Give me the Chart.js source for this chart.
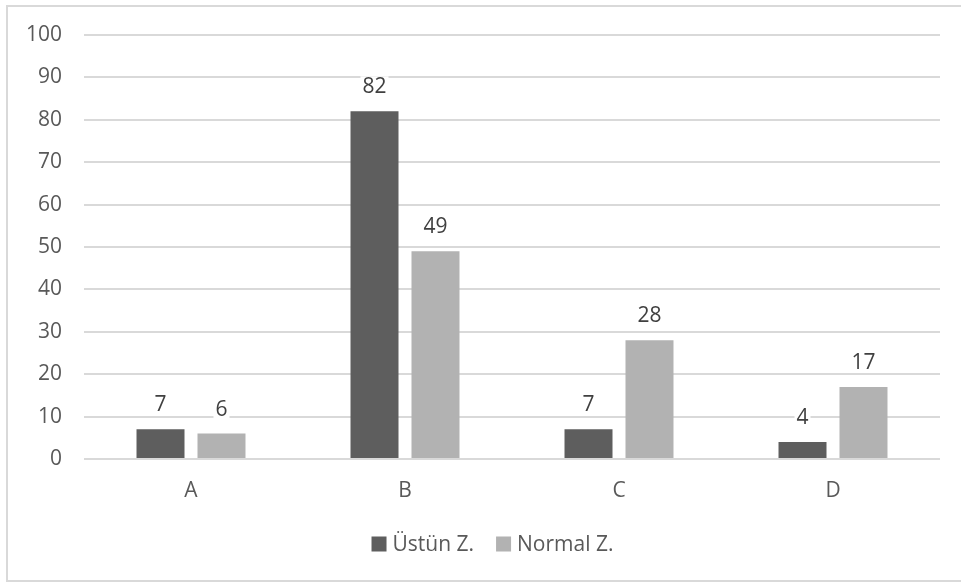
<!DOCTYPE html>
<html>
<head>
<meta charset="utf-8">
<script src="https://cdn.jsdelivr.net/npm/chart.js@4"></script>
<style>
  html, body { margin: 0; padding: 0; background: #ffffff; }
  #wrap { width: 961px; height: 584px; position: relative; }
</style>
</head>
<body>
<div id="wrap"><canvas id="chart" width="961" height="584"></canvas></div>
<script>
// Categories and series
const categories = ['A', 'B', 'C', 'D'];
const ustunValues = [7, 82, 7, 4];
const normalValues = [6, 49, 28, 17];
const seriesNames = ['Üstün Z.', 'Normal Z.'];
const yTicks = [0, 10, 20, 30, 40, 50, 60, 70, 80, 90, 100];

const FONT = "'Open Sans', sans-serif";
const FONT_SIZE = 21;

// Light frame around the whole chart
const framePlugin = {
  id: 'frame',
  beforeDraw(chart) {
    const ctx = chart.ctx;
    ctx.save();
    ctx.fillStyle = '#ffffff';
    ctx.fillRect(0, 0, chart.width, chart.height);
    ctx.strokeStyle = '#d9d9d9';
    ctx.lineWidth = 2;
    ctx.strokeRect(7, 6, chart.width + 20, 575);
    ctx.restore();
  }
};

// Value labels above each bar, on a white backing
const valueLabels = {
  id: 'valueLabels',
  afterDatasetsDraw(chart) {
    const ctx = chart.ctx;
    ctx.save();
    ctx.font = FONT_SIZE + 'px ' + FONT;
    ctx.textAlign = 'center';
    ctx.textBaseline = 'middle';
    chart.data.datasets.forEach((ds, di) => {
      const meta = chart.getDatasetMeta(di);
      meta.data.forEach((bar, i) => {
        const txt = String(ds.data[i]);
        const w = ctx.measureText(txt).width;
        const cy = bar.y - 25;
        ctx.fillStyle = '#ffffff';
        ctx.fillRect(bar.x - w / 2 - 2, cy - 10, w + 4, 20);
        ctx.fillStyle = '#404040';
        ctx.fillText(txt, bar.x, cy + 1);
      });
    });
    ctx.restore();
  }
};

// Compact legend row under the category axis
const bottomLegend = {
  id: 'bottomLegend',
  afterDraw(chart) {
    const ctx = chart.ctx;
    ctx.save();
    ctx.font = FONT_SIZE + 'px ' + FONT;
    ctx.textBaseline = 'middle';
    ctx.textAlign = 'left';
    const box = 15, gapText = 6, gapItem = 22;
    const items = chart.data.datasets.map(ds => ({
      label: ds.label, color: ds.backgroundColor, w: ctx.measureText(ds.label).width
    }));
    const total = items.reduce((s, it) => s + box + gapText + it.w, 0) + gapItem * (items.length - 1);
    let x = chart.width / 2 + 12 - total / 2;
    const cy = 544;
    items.forEach(it => {
      ctx.fillStyle = it.color;
      ctx.fillRect(x, cy - box / 2, box, box);
      x += box + gapText;
      ctx.fillStyle = '#595959';
      ctx.fillText(it.label, x, cy + 1);
      x += it.w + gapItem;
    });
    ctx.restore();
  }
};

new Chart(document.getElementById('chart'), {
  type: 'bar',
  data: {
    labels: categories,
    datasets: [
      { label: seriesNames[0], data: ustunValues, backgroundColor: '#5e5e5e' },
      { label: seriesNames[1], data: normalValues, backgroundColor: '#b2b2b2' }
    ]
  },
  options: {
    responsive: false,
    animation: false,
    devicePixelRatio: 1,
    layout: { padding: { top: 35, right: 21, left: 0, bottom: 80 } },
    datasets: {
      bar: { categoryPercentage: 0.57, barPercentage: 0.787 }
    },
    scales: {
      x: {
        grid: { display: false, drawTicks: false },
        border: { display: false },
        afterFit(scale) { scale.height = 45; },
        ticks: { color: '#595959', font: { family: FONT, size: FONT_SIZE }, padding: 19 }
      },
      y: {
        min: 0,
        max: 100,
        afterFit(scale) { scale.width = 84; },
        afterBuildTicks(scale) { scale.ticks = yTicks.map(v => ({ value: v })); },
        grid: { color: '#d9d9d9', lineWidth: 2, drawTicks: false },
        border: { display: false },
        ticks: { color: '#595959', font: { family: FONT, size: FONT_SIZE }, padding: 22 }
      }
    },
    plugins: {
      legend: { display: false },
      tooltip: { enabled: false }
    }
  },
  plugins: [framePlugin, valueLabels, bottomLegend]
});
</script>
</body>
</html>
